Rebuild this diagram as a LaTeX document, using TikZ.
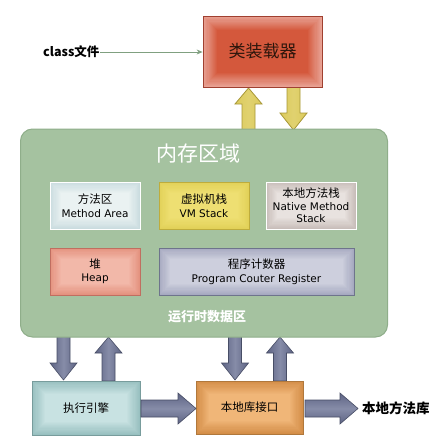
\documentclass[tikz,border=0pt]{standalone}
\usepackage{fontspec}
\setmainfont{DejaVu Sans}
\newfontfamily\cjk{Noto Sans CJK SC}
\usetikzlibrary{arrows.meta}
\definecolor{memgreen}{HTML}{A5C2A0}
\definecolor{memborder}{HTML}{8FAE8A}
\definecolor{ylw}{HTML}{DCCB5C}
\definecolor{ylwd}{HTML}{A89838}
\definecolor{blu}{HTML}{5E6484}
\definecolor{blul}{HTML}{868CA8}
\definecolor{blud}{HTML}{484E66}
\definecolor{loaderb}{HTML}{A04030}
\definecolor{loadero}{HTML}{E8A294}
\definecolor{loaderi}{HTML}{D4583C}
\definecolor{mao}{HTML}{CADCDF}
\definecolor{mai}{HTML}{EAF2F2}
\definecolor{vmo}{HTML}{E2D158}
\definecolor{vmi}{HTML}{EEDF72}
\definecolor{vmb}{HTML}{BEAC3C}
\definecolor{nso}{HTML}{C8BDB9}
\definecolor{nsi}{HTML}{E8E2DF}
\definecolor{heo}{HTML}{E4927F}
\definecolor{hei}{HTML}{F2B8A9}
\definecolor{heb}{HTML}{C06E60}
\definecolor{pco}{HTML}{A6A9C0}
\definecolor{pci}{HTML}{CDCFDD}
\definecolor{pcb}{HTML}{6E748C}
\definecolor{eno}{HTML}{98C0C0}
\definecolor{eni}{HTML}{C8E2E2}
\definecolor{enb}{HTML}{789C9C}
\definecolor{nlo}{HTML}{D48E48}
\definecolor{nli}{HTML}{F0B678}
\definecolor{nlb}{HTML}{B0783C}
\tikzset{
  glow/.style n args={3}{path picture={
    \foreach \i in {0,...,#3}{
      \pgfmathtruncatemacro\pct{100*\i/#3}
      \fill[#2!\pct!#1] ([shift={(\i*1.1pt,-\i*1.1pt)}]path picture bounding box.north west)
        rectangle ([shift={(-\i*1.1pt,\i*1.1pt)}]path picture bounding box.south east);
    }}},
  box/.style={draw, line width=1pt, minimum width=90pt, minimum height=47pt, align=center, inner sep=1pt, font=\fontsize{10.5}{13.5}\selectfont},
  yarrow/.style={draw=ylwd, line width=0.8pt, left color=ylw, right color=ylw, middle color=ylw!88!white},
  barrowv/.style={draw=blud, line width=0.6pt, left color=blu, right color=blu, middle color=blul},
  barrowh/.style={draw=blud, line width=0.6pt, top color=blu, bottom color=blu, middle color=blul},
}
% vertical up arrow: x, tip y, tail y, style
\newcommand\myup[4]{\path[#4] (#1-6.5,#3) -- (#1-6.5,#2+16) -- (#1-13.5,#2+16) -- (#1,#2) -- (#1+13.5,#2+16) -- (#1+6.5,#2+16) -- (#1+6.5,#3) -- cycle;}
\newcommand\mydown[4]{\path[#4] (#1-6.5,#3) -- (#1-6.5,#2-17) -- (#1-13.5,#2-17) -- (#1,#2) -- (#1+13.5,#2-17) -- (#1+6.5,#2-17) -- (#1+6.5,#3) -- cycle;}
% horizontal right arrow: y, tip x, tail x, style
\newcommand\myright[4]{\path[#4] (#3,#1-8.5) -- (#2-18,#1-8.5) -- (#2-18,#1-15.5) -- (#2,#1) -- (#2-18,#1+15.5) -- (#2-18,#1+8.5) -- (#3,#1+8.5) -- cycle;}
\begin{document}
\begin{tikzpicture}[x=1pt,y=-1pt]
\useasboundingbox (0,0) rectangle (445,447);
\fill[white] (0,0) rectangle (445,447);

% yellow arrows between loader and memory
\myup{248.5}{88}{132}{yarrow}
\mydown{293.5}{130}{87}{yarrow}
% blue arrows between memory and bottom boxes
\mydown{63.5}{380}{334}{barrowv}
\myup{108.5}{337}{381}{barrowv}
\mydown{235}{380}{334}{barrowv}
\myup{280}{337}{381}{barrowv}

% memory area
\node[draw=memborder, line width=1pt, fill=memgreen, rounded corners=12pt, minimum width=367pt, minimum height=208pt] (mem) at (204,233) {};
\node[text=white, font=\cjk\fontsize{21}{24}\selectfont] (memt) at (198,154) {内存区域};
\node[text=white, font=\cjk\bfseries\fontsize{13}{15}\selectfont] (rt) at (207,317) {运行时数据区};

% class loader
\node[draw=loaderb, line width=0.8pt, glow={loadero}{loaderi}{13}, minimum width=119pt, minimum height=71pt, font=\cjk\fontsize{17}{20}\selectfont, text={rgb,255:red,45;green,22;blue,12}] (loader) at (262.5,51.5) {类装载器};
\node[font=\cjk\bfseries\fontsize{12.5}{14}\selectfont, anchor=west, inner sep=0pt] (cls) at (43,52) {class文件};
\draw[-{Stealth[length=6pt,width=5pt]}, draw={rgb,255:red,128;green,160;blue,128}, line width=0.8pt] (cls.east) -- (loader.west |- cls.east);

% inner boxes
\node[box, draw=white, glow={mao}{mai}{10}] (ma) at (95,205.5) {{\cjk\fontsize{11.5}{13.5}\selectfont 方法区}\\Method Area};
\node[box, draw=vmb, glow={vmo}{vmi}{10}] (vm) at (204,205.5) {{\cjk\fontsize{11.5}{13.5}\selectfont 虚拟机栈}\\VM Stack};
\node[box, draw=white, glow={nso}{nsi}{10}, font=\fontsize{10.5}{12.5}\selectfont] (ns) at (311,205.5) {{\cjk\fontsize{11.5}{13.5}\selectfont 本地方法栈}\\Native Method\\Stack};
\node[box, draw=heb, glow={heo}{hei}{10}] (heap) at (95,271.5) {{\cjk\fontsize{11.5}{13.5}\selectfont 堆}\\Heap};
\node[box, minimum width=195pt, draw=pcb, glow={pco}{pci}{10}] (pc) at (256.5,271.5) {{\cjk\fontsize{11.5}{13.5}\selectfont 程序计数器}\\Program Couter Register};

% bottom boxes
\node[draw=enb, line width=0.8pt, glow={eno}{eni}{12}, minimum width=108pt, minimum height=54pt, font=\cjk\fontsize{11.5}{13}\selectfont] (eng) at (86,408) {执行引擎};
\node[draw=nlb, line width=0.8pt, glow={nlo}{nli}{12}, minimum width=107pt, minimum height=53pt, font=\cjk\fontsize{11.5}{13}\selectfont] (nlif) at (249.5,407.5) {本地库接口};
\node[font=\cjk\bfseries\fontsize{13.5}{15}\selectfont, anchor=west, inner sep=0pt] (nlib) at (362,408) {本地方法库};

\myright{408.5}{196}{141}{barrowh}
\myright{408.5}{358}{305}{barrowh}
\end{tikzpicture}
\end{document}
